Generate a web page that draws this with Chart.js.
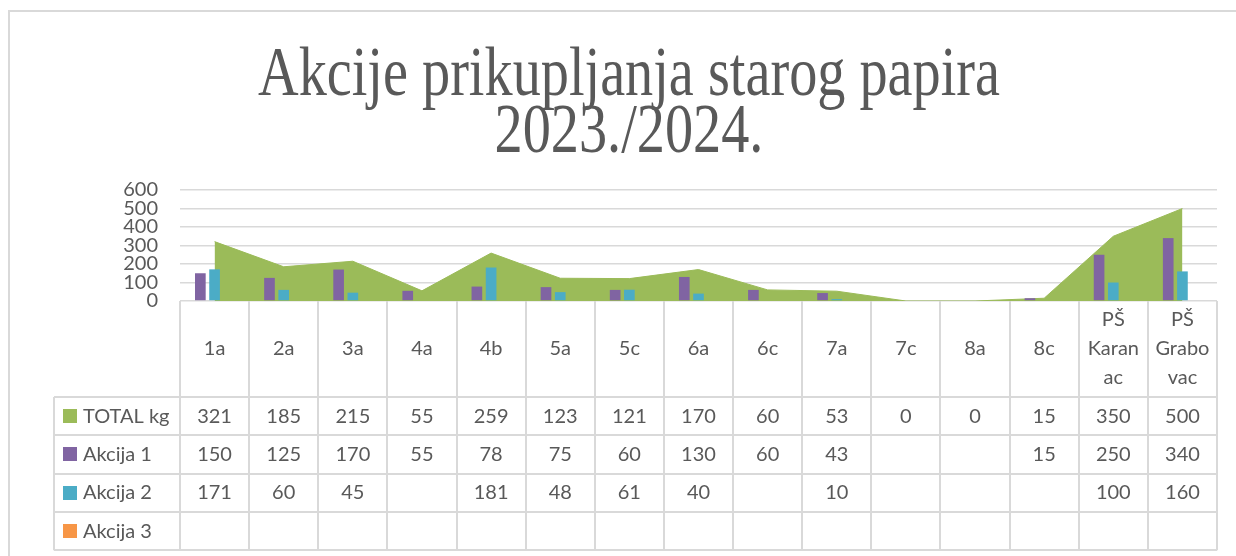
<!DOCTYPE html>
<html lang="hr">
<head>
    <meta charset="UTF-8">
    <title>Akcije prikupljanja starog papira</title>
    <script src="https://cdn.jsdelivr.net/npm/chart.js@4.4.0/dist/chart.umd.min.js"></script>
    <style>
        html, body { margin: 0; padding: 0; background: #fff; }
        #wrap { width: 1236px; height: 556px; }
    </style>
</head>
<body>
<div id="wrap"><canvas id="chart" width="1236" height="556"></canvas></div>
<script>
    var categories = ['1a', '2a', '3a', '4a', '4b', '5a', '5c', '6a', '6c', '7a', '7c', '8a', '8c',
        ['PŠ', 'Karan', 'ac'], ['PŠ', 'Grabo', 'vac']];
    var totalKg = [321, 185, 215, 55, 259, 123, 121, 170, 60, 53, 0, 0, 15, 350, 500];
    var akcija1 = [150, 125, 170, 55, 78, 75, 60, 130, 60, 43, null, null, 15, 250, 340];
    var akcija2 = [171, 60, 45, null, 181, 48, 61, 40, null, 10, null, null, null, 100, 160];
    var akcija3 = [null, null, null, null, null, null, null, null, null, null, null, null, null, null, null];
    var yTicks = [0, 100, 200, 300, 400, 500, 600];
    var titleLines = ['Akcije prikupljanja starog papira', '2023./2024.'];

    var textColor = '#595959';
    var lineColor = '#d9d9d9';

    // outer frame of the chart object
    var framePlugin = {
        id: 'frame',
        beforeDraw: function(chart) {
            var ctx = chart.ctx;
            ctx.save();
            ctx.strokeStyle = lineColor;
            ctx.lineWidth = 2;
            ctx.beginPath();
            ctx.moveTo(9, chart.height);
            ctx.lineTo(9, 11);
            ctx.lineTo(chart.width, 11);
            ctx.stroke();
            ctx.restore();
        }
    };

    // title in a narrow serif face
    var titlePlugin = {
        id: 'bigTitle',
        afterDraw: function(chart) {
            var ctx = chart.ctx;
            ctx.save();
            ctx.font = '70px "Liberation Serif", serif';
            ctx.fillStyle = textColor;
            ctx.textAlign = 'center';
            ctx.textBaseline = 'alphabetic';
            var sx = 742 / ctx.measureText(titleLines[0]).width;
            var baselines = [95, 152];
            titleLines.forEach(function(t, i) {
                ctx.save();
                ctx.translate(629, baselines[i]);
                ctx.scale(sx, 1);
                ctx.fillText(t, 0, 0);
                ctx.restore();
            });
            ctx.restore();
        }
    };

    // data table under the plot, columns taken from the x scale
    var tablePlugin = {
        id: 'dataTable',
        afterDraw: function(chart) {
            var ctx = chart.ctx;
            var xs = chart.scales.x;
            var area = chart.chartArea;
            var n = categories.length;
            var colW = (area.right - area.left) / n;
            var top = area.bottom;
            var headBottom = 397;
            var rowH = 38.3;
            var tableLeft = 54;
            var rows = [
                { name: 'TOTAL kg', color: '#9BBB59', values: totalKg },
                { name: 'Akcija 1', color: '#8064A2', values: akcija1 },
                { name: 'Akcija 2', color: '#4BACC6', values: akcija2 },
                { name: 'Akcija 3', color: '#F79646', values: akcija3 }
            ];
            var bottom = headBottom + rowH * rows.length;

            ctx.save();
            ctx.strokeStyle = lineColor;
            ctx.lineWidth = 2;
            ctx.beginPath();
            // vertical lines of the category columns
            for (var i = 0; i <= n; i++) {
                var x = Math.round(area.left + i * colW);
                ctx.moveTo(x, top);
                ctx.lineTo(x, bottom);
            }
            // left edge of the legend column
            ctx.moveTo(tableLeft, headBottom);
            ctx.lineTo(tableLeft, bottom);
            // row lines
            for (var r = 0; r <= rows.length; r++) {
                var y = Math.round(headBottom + r * rowH);
                ctx.moveTo(tableLeft, y);
                ctx.lineTo(area.right, y);
            }
            ctx.stroke();

            ctx.fillStyle = textColor;
            ctx.font = '20px Lato, sans-serif';
            ctx.textAlign = 'center';
            ctx.textBaseline = 'middle';

            // category header
            var headMid = (top + headBottom) / 2;
            categories.forEach(function(c, i) {
                var cx = xs.getPixelForValue(i);
                var lines = Array.isArray(c) ? c : [c];
                var lh = 29;
                var y0 = headMid - (lines.length - 1) * lh / 2;
                lines.forEach(function(l, j) {
                    ctx.fillText(l, cx, y0 + j * lh);
                });
            });

            // series rows
            rows.forEach(function(row, r) {
                var cy = headBottom + r * rowH + rowH / 2;
                ctx.fillStyle = row.color;
                ctx.fillRect(63, Math.round(cy - 7), 14, 14);
                ctx.fillStyle = textColor;
                ctx.textAlign = 'left';
                ctx.fillText(row.name, 83, cy);
                ctx.textAlign = 'center';
                row.values.forEach(function(v, i) {
                    if (v === null) return;
                    ctx.fillText(String(v), xs.getPixelForValue(i), cy);
                });
            });
            ctx.restore();
        }
    };

    var ctx = document.getElementById('chart').getContext('2d');
    new Chart(ctx, {
        type: 'bar',
        data: {
            labels: categories,
            datasets: [{
                type: 'line',
                label: 'TOTAL kg',
                data: totalKg,
                backgroundColor: '#9BBB59',
                borderColor: '#9BBB59',
                borderWidth: 1,
                pointRadius: 0,
                tension: 0,
                fill: 'origin',
                order: 2
            }, {
                label: 'Akcija 1',
                data: akcija1,
                backgroundColor: '#8064A2',
                order: 1
            }, {
                label: 'Akcija 2',
                data: akcija2,
                backgroundColor: '#4BACC6',
                order: 1
            }, {
                label: 'Akcija 3',
                data: akcija3,
                backgroundColor: '#F79646',
                order: 1
            }]
        },
        options: {
            responsive: false,
            animation: false,
            devicePixelRatio: 1,
            layout: { padding: { top: 190, bottom: 255, right: 19, left: 0 } },
            datasets: {
                bar: { categoryPercentage: 0.617, barPercentage: 0.75 }
            },
            plugins: {
                legend: { display: false },
                title: { display: false },
                tooltip: { enabled: false }
            },
            scales: {
                x: {
                    display: false
                },
                y: {
                    min: 0,
                    max: 600,
                    afterFit: function(scale) { scale.width = 180; },
                    afterBuildTicks: function(scale) {
                        scale.ticks = yTicks.map(function(v) { return { value: v }; });
                    },
                    ticks: {
                        color: textColor,
                        font: { family: 'Lato', size: 20 },
                        padding: 22,
                        autoSkip: false
                    },
                    grid: {
                        color: lineColor,
                        lineWidth: 1.5,
                        drawTicks: false
                    },
                    border: { display: false }
                }
            }
        },
        plugins: [framePlugin, tablePlugin, titlePlugin]
    });
</script>
</body>
</html>
